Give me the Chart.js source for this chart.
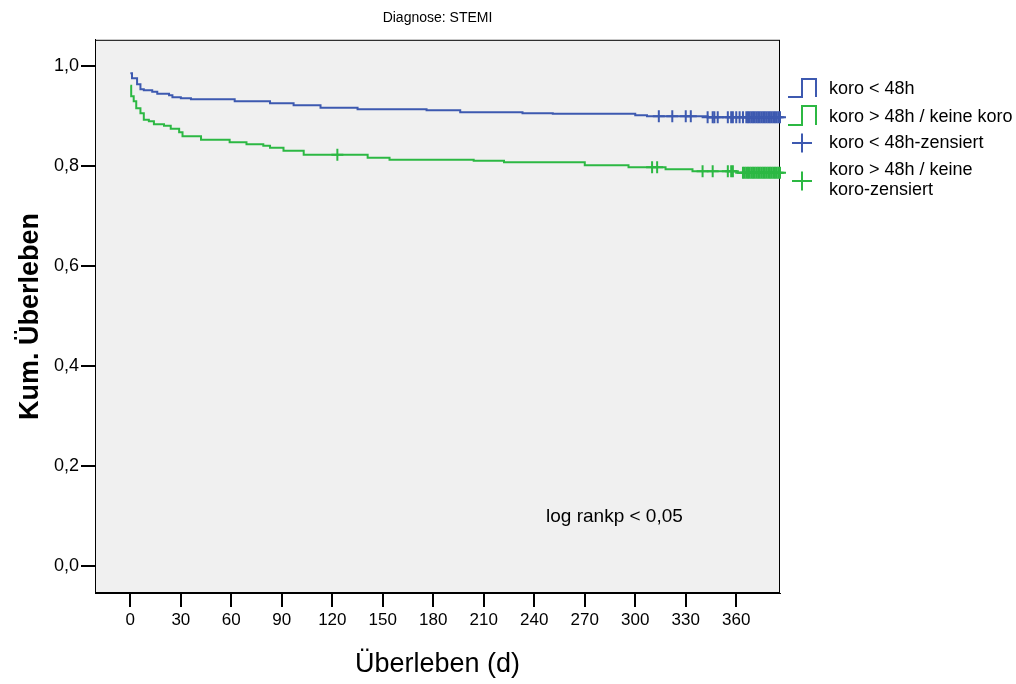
<!DOCTYPE html>
<html>
<head>
<meta charset="utf-8">
<title>Diagnose: STEMI</title>
<script src="https://cdn.jsdelivr.net/npm/chart.js@4.4.1/dist/chart.umd.min.js"></script>
<style>
  body { margin: 0; background: #fff; }
  #caja { width: 1016px; height: 684px; position: relative; }
</style>
</head>
<body>
<div id="caja"><canvas id="km"></canvas></div>
<script>
// datos (Kaplan-Meier, días / supervivencia acumulada)

var diasKoro = [0, 1, 4, 6, 8, 13, 16, 23, 25, 30, 36, 62, 83, 97, 113, 135, 176, 196, 233, 251, 300, 307, 343, 386];
var survKoro = [0.985, 0.975, 0.963, 0.953, 0.951, 0.948, 0.944, 0.941, 0.937, 0.935, 0.933, 0.929, 0.925, 0.921, 0.916, 0.913, 0.911, 0.907, 0.905, 0.904, 0.901, 0.899, 0.897, 0.897];

var diasKeine = [0, 0.5, 2, 3.5, 6, 8, 11, 14, 20, 24, 29, 31, 42, 59, 69, 79, 83, 91, 103, 141, 154, 204, 222, 270, 296, 318, 334, 360, 386];
var survKeine = [0.960, 0.939, 0.929, 0.915, 0.905, 0.892, 0.889, 0.883, 0.880, 0.874, 0.867, 0.859, 0.852, 0.847, 0.843, 0.840, 0.836, 0.830, 0.822, 0.816, 0.812, 0.810, 0.807, 0.801, 0.797, 0.793, 0.789, 0.786, 0.786];

// casos censurados (días)
var zensKoro = [314, 322, 330, 333, 343, 346, 347, 349, 355, 357, 358, 360, 362, 364, 366, 367, 368, 369, 370, 371, 372, 373, 374, 375, 376, 377, 378, 379, 380, 381, 382, 383, 384, 385, 386];
var zensKeine = [123, 310, 313, 340, 346, 355, 357, 358, 364, 365, 366, 367, 368, 369, 370, 371, 372, 373, 374, 375, 376, 377, 378, 379, 380, 381, 382, 383, 384, 385, 386];

var xTicks = [0, 30, 60, 90, 120, 150, 180, 210, 240, 270, 300, 330, 360];
var yTicks = [0, 0.2, 0.4, 0.6, 0.8, 1.0];

var azul = "rgb(61, 89, 176)";
var verde = "rgb(44, 184, 67)";

Chart.defaults.font.family = "'Liberation Sans', Arial, sans-serif";
Chart.defaults.color = "#000";

function puntos(dias, surv) {
    return dias.map(function (d, i) { return { x: d, y: surv[i] }; });
}

// valor de la curva escalonada en el día t
function nivel(dias, surv, t) {
    var v = surv[0];
    for (var i = 0; i < dias.length; i++) {
        if (dias[i] <= t) v = surv[i];
    }
    return v;
}

function puntosCensura(zens, dias, surv) {
    return zens.map(function (t) { return { x: t, y: nivel(dias, surv, t) }; });
}

// fondo gris, marco y leyenda dibujados a mano
var fondoYLeyenda = {
    id: "fondoYLeyenda",
    beforeDraw: function (chart) {
        var a = chart.chartArea;
        var ctx = chart.ctx;
        ctx.save();
        ctx.fillStyle = "#f0f0f0";
        ctx.fillRect(a.left, a.top, a.right - a.left, a.bottom - a.top);
        ctx.restore();
    },
    beforeDatasetsDraw: function (chart) {
        var a = chart.chartArea;
        var ctx = chart.ctx;
        ctx.save();
        ctx.strokeStyle = "#000";
        ctx.lineWidth = 1;
        ctx.strokeRect(a.left + 0.5, a.top + 0.5, a.right - a.left - 1, a.bottom - a.top - 1);
        ctx.restore();
    },
    afterDraw: function (chart) {
        var a = chart.chartArea;
        var ctx = chart.ctx;
        var x0 = a.right + 8;
        ctx.save();
        ctx.lineWidth = 2;

        // iconos de escalón
        function escalon(color, arriba, abajo) {
            ctx.strokeStyle = color;
            ctx.beginPath();
            ctx.moveTo(x0, abajo);
            ctx.lineTo(x0 + 14, abajo);
            ctx.lineTo(x0 + 14, arriba);
            ctx.lineTo(x0 + 28, arriba);
            ctx.lineTo(x0 + 28, abajo);
            ctx.stroke();
        }
        function cruz(color, cy) {
            ctx.strokeStyle = color;
            ctx.beginPath();
            ctx.moveTo(x0 + 4, cy);
            ctx.lineTo(x0 + 24, cy);
            ctx.moveTo(x0 + 14, cy - 9.5);
            ctx.lineTo(x0 + 14, cy + 9.5);
            ctx.stroke();
        }
        escalon(azul, 79, 97);
        escalon(verde, 106, 125);
        cruz(azul, 143);
        cruz(verde, 181);

        ctx.fillStyle = "#000";
        ctx.font = "18px 'Liberation Sans', Arial, sans-serif";
        ctx.textAlign = "left";
        ctx.textBaseline = "middle";
        var tx = a.right + 49;
        ctx.fillText("koro < 48h", tx, 89);
        ctx.fillText("koro > 48h / keine koro", tx, 117);
        ctx.fillText("koro < 48h-zensiert", tx, 143);
        ctx.fillText("koro > 48h / keine", tx, 170);
        ctx.fillText("koro-zensiert", tx, 190);

        // texto del test
        var sx = chart.scales.x;
        var sy = chart.scales.y;
        ctx.font = "19px 'Liberation Sans', Arial, sans-serif";
        ctx.fillText("log rankp < 0,05", sx.getPixelForValue(247), sy.getPixelForValue(0.098));
        ctx.restore();
    }
};

var config = {
    type: "scatter",
    data: {
        datasets: [{
            label: "koro < 48h",
            data: puntos(diasKoro, survKoro),
            showLine: true,
            stepped: "before",
            borderColor: azul,
            borderWidth: 2,
            pointRadius: 0,
            fill: false
        }, {
            label: "koro > 48h / keine koro",
            data: puntos(diasKeine, survKeine),
            showLine: true,
            stepped: "before",
            borderColor: verde,
            borderWidth: 2,
            pointRadius: 0,
            fill: false
        }, {
            label: "koro < 48h-zensiert",
            data: puntosCensura(zensKoro, diasKoro, survKoro),
            pointStyle: "cross",
            pointRadius: 6,
            borderColor: azul,
            borderWidth: 2,
            clip: false
        }, {
            label: "koro > 48h / keine koro-zensiert",
            data: puntosCensura(zensKeine, diasKeine, survKeine),
            pointStyle: "cross",
            pointRadius: 6,
            borderColor: verde,
            borderWidth: 2,
            clip: false
        }]
    },
    options: {
        responsive: true,
        maintainAspectRatio: false,
        animation: false,
        events: [],
        layout: {
            padding: { left: 0, right: 236, top: 0, bottom: 0 }
        },
        plugins: {
            legend: { display: false },
            tooltip: { enabled: false },
            title: {
                display: true,
                text: "Diagnose: STEMI",
                fullSize: false,
                color: "#000",
                font: { size: 14, weight: "normal" },
                padding: { top: 10, bottom: 13 }
            }
        },
        scales: {
            x: {
                type: "linear",
                min: -21,
                max: 386,
                afterBuildTicks: function (eje) {
                    eje.ticks = xTicks.map(function (v) { return { value: v }; });
                },
                afterFit: function (eje) { eje.height = 91; },
                ticks: {
                    color: "#000",
                    font: { size: 17 },
                    padding: 3,
                    maxRotation: 0,
                    autoSkip: false
                },
                grid: {
                    drawOnChartArea: false,
                    drawTicks: true,
                    tickLength: 14,
                    color: "#000",
                    lineWidth: 2
                },
                border: { display: true, color: "#000", width: 1 },
                title: {
                    display: true,
                    text: "Überleben (d)",
                    color: "#000",
                    font: { size: 27 },
                    padding: { top: 0, bottom: 3 }
                }
            },
            y: {
                type: "linear",
                min: -0.054,
                max: 1.052,
                afterBuildTicks: function (eje) {
                    eje.ticks = yTicks.map(function (v) { return { value: v }; });
                },
                afterFit: function (eje) { eje.width = 95; },
                ticks: {
                    color: "#000",
                    font: { size: 18 },
                    padding: 2,
                    callback: function (v) { return v.toFixed(1).replace(".", ","); }
                },
                grid: {
                    drawOnChartArea: false,
                    drawTicks: true,
                    tickLength: 14,
                    color: "#000",
                    lineWidth: 2
                },
                border: { display: true, color: "#000", width: 1 },
                title: {
                    display: true,
                    text: "Kum. Überleben",
                    color: "#000",
                    font: { size: 27, weight: "bold" },
                    padding: { top: 14, bottom: 0 }
                }
            }
        }
    },
    plugins: [fondoYLeyenda]
};

var grafico = document.getElementById("km").getContext("2d");
new Chart(grafico, config);
</script>
</body>
</html>
